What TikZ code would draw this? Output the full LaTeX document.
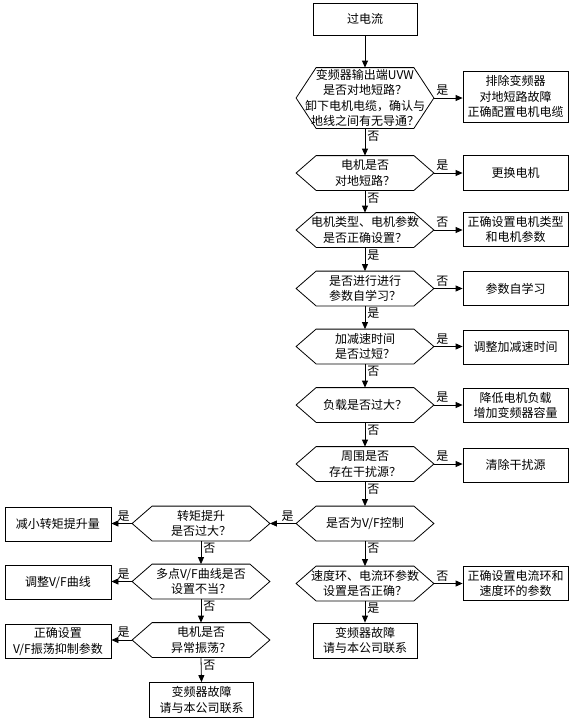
\documentclass[tikz,border=0pt]{standalone}
\usepackage{fontspec}
\setmainfont{Noto Sans CJK SC}
\usetikzlibrary{arrows.meta}
\begin{document}
\begin{tikzpicture}[x=1pt,y=-1pt,line width=0.8pt,
  font=\fontsize{12}{15.5}\selectfont,
  box/.style={draw,align=center,minimum width=104pt,minimum height=34pt,inner sep=0pt},
  hexa/.style={align=center,minimum width=137pt,minimum height=34pt,inner sep=0pt},
  arr/.style={-{Triangle[length=7pt,width=6pt]}},
  lab/.style={inner sep=2pt}]
\useasboundingbox (0,0) rectangle (571,721);
% main column
\node [box,minimum height=32pt] (start) at (365,19) {过电流};
\node [hexa,minimum height=60pt] (d1) at (365,98) {变频器输出端UVW\\是否对地短路？\\卸下电机电缆，确认与\\地线之间有无导通？};
\node [hexa] (d2) at (365,173) {电机是否\\对地短路？};
\node [hexa] (d3) at (365,230) {电机类型、电机参数\\是否正确设置？};
\node [hexa] (d4) at (365,288.5) {是否进行进行\\参数自学习？};
\node [hexa] (d5) at (365,346.5) {加减速时间\\是否过短？};
\node [hexa] (d6) at (365,405) {负载是否过大？};
\node [hexa] (d7) at (365,464) {周围是否\\存在干扰源？};
\node [hexa] (d8) at (365,523.5) {是否为V/F控制};
\node [hexa] (d9) at (365,583.5) {速度环、电流环参数\\设置是否正确？};
\node [box,minimum height=35pt] (e1) at (365,640.5) {变频器故障\\请与本公司联系};
% right column
\node [box,minimum width=105pt,minimum height=51pt] (r1) at (515.5,96.5) {排除变频器\\对地短路故障\\正确配置电机电缆};
\node [box,minimum width=105pt,minimum height=35pt] (r2) at (515.5,172.5) {更换电机};
\node [box,minimum width=105pt] (r3) at (515.5,229.5) {正确设置电机类型\\和电机参数};
\node [box,minimum width=105pt] (r4) at (515.5,288.5) {参数自学习};
\node [box,minimum width=105pt] (r5) at (515.5,347) {调整加减速时间};
\node [box,minimum width=105pt] (r6) at (515.5,405.5) {降低电机负载\\增加变频器容量};
\node [box,minimum width=105pt] (r7) at (515.5,465) {清除干扰源};
\node [box,minimum width=105pt] (r9) at (515.5,583.5) {正确设置电流环和\\速度环的参数};
% left column
\node [hexa] (l1) at (201,523.5) {转矩提升\\是否过大？};
\node [hexa] (l2) at (201,581.5) {多点V/F曲线是否\\设置不当？};
\node [hexa] (l3) at (201,640) {电机是否\\异常振荡？};
\node [box,minimum height=35pt] (e2) at (201.5,700) {变频器故障\\请与本公司联系};
\node [box,minimum width=106pt] (b1) at (58,524) {减小转矩提升量};
\node [box,minimum width=106pt] (b2) at (58,582.5) {调整V/F曲线};
\node [box,minimum width=106pt] (b3) at (58,641.5) {正确设置\\V/F振荡抑制参数};
% hexagon outlines
\foreach \n in {d1,d2,d3,d4,d5,d6,d7,d8,d9,l1,l2,l3}
  \draw (\n.west) -- ([xshift=20pt]\n.north west) -- ([xshift=-20pt]\n.north east)
    -- (\n.east) -- ([xshift=-20pt]\n.south east) -- ([xshift=20pt]\n.south west) -- cycle;
% downward connectors
\draw [arr] (start.south) -- (d1.north);
\foreach \a/\b/\t in {d1/d2/否,d2/d3/否,d3/d4/是,d4/d5/是,d5/d6/否,d6/d7/否,d7/d8/否,d8/d9/否,d9/e1/是,l1/l2/否,l2/l3/否,l3/e2/否}
  \draw [arr] (\a.south) -- node [lab,pos=0,below right] {\t} (\b.north);
% right connectors
\foreach \a/\b/\t in {d1/r1/是,d2/r2/是,d3/r3/否,d4/r4/否,d5/r5/是,d6/r6/是,d7/r7/是,d9/r9/否}
  \draw [arr] (\a.east) -- node [lab,pos=0,above right] {\t} (\a.east -| \b.west);
% left connectors
\foreach \a/\b in {d8/l1,l1/b1,l2/b2,l3/b3}
  \draw [arr] (\a.west) -- node [lab,pos=0,above left] {是} (\a.west -| \b.east);
\end{tikzpicture}
\end{document}
